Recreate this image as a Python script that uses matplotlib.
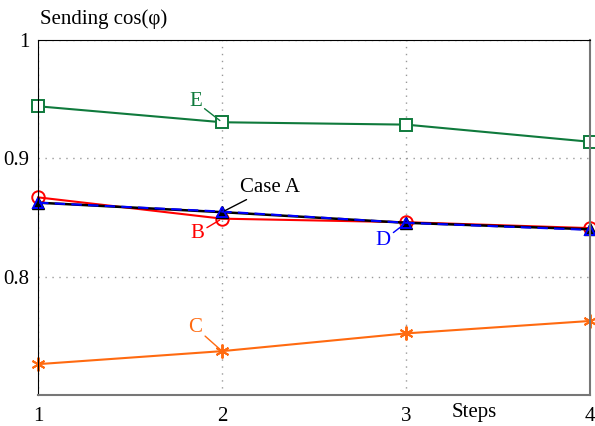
import numpy as np
import matplotlib.pyplot as plt

plt.rcParams['font.family'] = ['Liberation Serif', 'DejaVu Serif']
plt.rcParams['font.size'] = 15

steps = [1, 2, 3, 4]
case_a = [0.8625, 0.8545, 0.8455, 0.8400]
case_b = [0.8670, 0.8490, 0.8460, 0.8410]
case_c = [0.7260, 0.7370, 0.7520, 0.7625]
case_d = [0.8625, 0.8550, 0.8455, 0.8395]
case_e = [0.9440, 0.9305, 0.9285, 0.9140]

green = '#0f7a3c'
orange = '#ff6a10'

fig = plt.figure(figsize=(5.95, 4.26), dpi=100)
ax = fig.add_axes([0.064, 0.073, 0.9276, 0.833])

ax.plot(steps, case_e, '-', color=green, lw=1.5, marker='s', ms=8.5,
        mfc='white', mec=green, mew=1.4, clip_on=False)
ax.plot(steps, case_c, '-', color=orange, lw=1.5, marker=(6, 2, 0), ms=10,
        mec=orange, mew=1.4, clip_on=False)
ax.plot(steps, case_b, '-', color='red', lw=1.5, marker='o', ms=9,
        mfc='none', mec='red', mew=1.4, clip_on=False)
ax.plot(steps, case_a, '-', color='black', lw=1.8, marker='^', ms=8.5,
        mfc='black', mec='black', clip_on=False)
ax.plot(steps, case_d, '--', color='blue', lw=1.5, marker='^', ms=7.5,
        mfc='none', mec='blue', mew=1.4, dashes=(5, 3), clip_on=False)

ax.set_xlim(1, 4)
ax.set_ylim(0.7, 1.0)
ax.set_xticks(steps)
ax.set_xticklabels(['1', '2', '3', '4'])
ax.set_yticks([0.8, 0.9, 1.0])
ax.set_yticklabels(['0.8', '0.9', '1'])
ax.tick_params(axis='x', length=0, pad=9)
ax.tick_params(axis='y', length=0, pad=6)
ax.grid(True, ls=(0, (1, 4)), color='#999999', lw=1)

for side in ['left', 'top']:
    ax.spines[side].set_color('black')
for side in ['right', 'bottom']:
    ax.spines[side].set_color('#777777')
    ax.spines[side].set_linewidth(1.5)

ax.text(0.003, 1.03, 'Sending cos(φ)', transform=ax.transAxes,
        ha='left', va='bottom')
ax.text(3.37, -0.05, 'Steps', transform=ax.get_xaxis_transform(),
        ha='center', va='center')

# curve labels with short leader lines
def label(txt, xy, xytext, color, ha='center'):
    ax.annotate(txt, xy=xy, xytext=xytext, color=color, ha=ha, va='center',
                arrowprops=dict(arrowstyle='-', color=color, lw=1,
                                shrinkA=0, shrinkB=2))

label('Case A', (2, case_a[1]), (2.10, 0.8755), 'black', ha='left')
label('B', (2, case_b[1]), (1.865, 0.8365), 'red')
label('D', (3, case_d[2]), (2.875, 0.8305), 'blue')
label('E', (2, case_e[1]), (1.855, 0.948), green)
label('C', (2, case_c[1]), (1.855, 0.757), orange)

fig.savefig('out.png', dpi=100)
